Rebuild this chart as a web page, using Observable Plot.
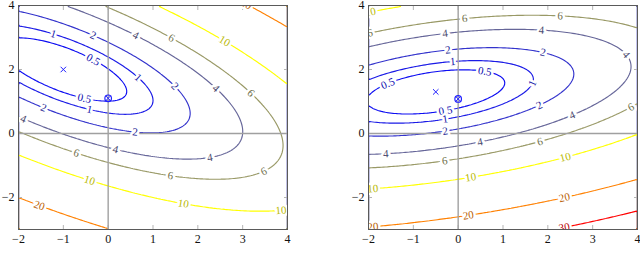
<!DOCTYPE html>
<html><head><meta charset="utf-8">
<script src="https://cdn.jsdelivr.net/npm/d3@7"></script>
<script src="https://cdn.jsdelivr.net/npm/@observablehq/plot@0.6"></script>
<style>
body{margin:0;background:#fff;}
#wrap{display:flex;width:640px;height:264px;overflow:hidden;}
#wrap svg{display:block;}
</style></head><body><div id="wrap"></div>
<script>
// contour levels and colormap (pgfplots "hot": blue, yellow, orange, red)
const levels = [0.5, 1, 2, 4, 6, 10, 20, 30];
const colorStopValues = [0, 10, 20, 30];
const colorStops = ["#0000ff", "#ffff00", "#ff8000", "#ff0000"];
const xTicks = [-2, -1, 0, 1, 2, 3, 4];
const yTicks = [-2, 0, 2, 4];
const xDomain = [-2, 4];
const yDomain = [-3, 4];

// left panel: quadratic bowl (center, coefficients a, b, c of a*u^2 + 2b*u*v + c*v^2)
const leftCenter = [-1, 2];
const leftQuad = [0.48, 0.475, 0.98];
const leftPoint = [0, 1.1];
const leftLabelLevels = [1, 2, 4, 6, 10, 20, 0.5, 1, 2, 4, 6, 0.5, 1, 2, 4, 2, 4, 6, 4, 6, 6, 10, 10, 10, 20];
const leftLabelX = [-1.22, -0.34, 0.59, 1.37, 2.54, 3.02, -0.35, 0.64, 1.45, 2.35, 3.13, -0.53, -0.42, -1.44, -1.89, 0.60, 0.16, -0.71, 2.28, 1.39, 3.49, -0.42, 1.68, 3.86, -1.52];
const leftLabelY = [3.11, 3.06, 3.03, 2.93, 2.82, 3.97, 2.28, 1.73, 1.45, 1.37, 1.22, 1.10, 0.74, 0.80, 0.46, 0.04, -0.5, -0.62, -0.79, -1.33, -1.21, -1.47, -2.18, -2.46, -2.22];

// right panel
const rightCenter = [-0.5, 1.3];
const rightQuad = [0.252, -0.227, 1.25];
const rightPoint = [0, 1.08];
const rightLabelLevels = [10, 6, 6, 6, 4, 4, 4, 2, 2, 1, 0.5, 0.5, 1, 0.5, 1, 2, 2, 4, 6, 4, 4, 6, 6, 10, 10, 10, 20, 20, 20, 30];
const rightLabelX = [-1.95, -1.96, 0.14, 2.28, -0.29, 1.86, 3.86, -0.23, 1.91, -0.12, 0.60, -1.59, 1.65, -0.29, -0.29, 1.79, -0.29, 2.54, 3.84, 0.49, -1.61, 1.82, -0.30, 2.38, 0.27, -1.90, 2.35, 0.22, -1.90, 2.35];
const rightLabelY = [3.76, 3.11, 3.61, 3.74, 3.11, 3.27, 2.54, 2.62, 2.59, 2.25, 1.97, 1.60, 1.57, 0.74, 0.46, 0.91, 0.09, 0.58, 0.84, -0.27, -0.67, -0.24, -0.84, -0.72, -1.34, -1.75, -1.94, -2.53, -2.93, -2.88];

const markBlue = "#2020ff";
const serif = "'Liberation Serif', 'DejaVu Serif', serif";

const colorOf = d3.scaleLinear().domain(colorStopValues).range(colorStops).interpolate(d3.interpolateRgb);
function labelColor(L) {
  const c = d3.rgb(colorOf(L));
  return d3.rgb(c.r * 0.72, c.g * 0.72, c.b * 0.72).formatHex();
}

function bowl(center, q) {
  const [cx, cy] = center, [a, b, c] = q;
  const f = (x, y) => { const u = x - cx, v = y - cy; return a*u*u + 2*b*u*v + c*v*v; };
  const g = (x, y) => { const u = x - cx, v = y - cy; return [2*(a*u + b*v), 2*(b*u + c*v)]; };
  return {f, g};
}

function panel({center, quad, point, labLevels, labX, labY, width, marginLeft, marginRight}) {
  const height = 264, marginTop = 5, marginBottom = 35;
  const sx = (width - marginLeft - marginRight) / (xDomain[1] - xDomain[0]);
  const sy = (height - marginTop - marginBottom) / (yDomain[1] - yDomain[0]);
  const {f, g} = bowl(center, quad);
  const labels = labLevels.map((L, i) => {
    let x = labX[i], y = labY[i];
    for (let k = 0; k < 30; k++) {
      const [gx, gy] = g(x, y);
      const d = (f(x, y) - L) / (gx*gx + gy*gy);
      x -= d*gx; y -= d*gy;
    }
    const [gx, gy] = g(x, y);
    let ang = Math.atan2(-gx*sy, -gy*sx) * 180 / Math.PI;
    if (ang > 90) ang -= 180;
    if (ang <= -90) ang += 180;
    return {x, y, text: String(L), rotate: ang, color: labelColor(L)};
  });
  return Plot.plot({
    width, height, marginTop, marginBottom, marginLeft, marginRight,
    x: {domain: xDomain},
    y: {domain: yDomain},
    color: {type: "linear", domain: colorStopValues, range: colorStops, interpolate: "rgb"},
    style: {fontFamily: serif, background: "white", overflow: "visible"},
    marks: [
      Plot.contour({x1: xDomain[0], y1: yDomain[0], x2: xDomain[1], y2: yDomain[1],
        stroke: f, fill: "none", thresholds: levels, strokeWidth: 1.15, clip: true}),
      Plot.axisX(xTicks, {anchor: "bottom", tickSize: -4, tickFormat: () => "", stroke: "#b5b5b5", label: null}),
      Plot.axisX(xTicks, {anchor: "top", tickSize: -4, tickFormat: () => "", stroke: "#b5b5b5", label: null}),
      Plot.axisY(yTicks, {anchor: "left", tickSize: -4, tickFormat: () => "", stroke: "#b5b5b5", label: null}),
      Plot.axisY(yTicks, {anchor: "right", tickSize: -4, tickFormat: () => "", stroke: "#b5b5b5", label: null}),
      Plot.ruleX([0], {stroke: "#a0a0a0", strokeWidth: 1.4}),
      Plot.ruleY([0], {stroke: "#a0a0a0", strokeWidth: 1.4}),
      Plot.text(labels, {x: "x", y: "y", text: "text", rotate: "rotate", fill: d => d.color,
        stroke: "white", strokeWidth: 5, fontSize: 11, fontFamily: serif, clip: true}),
      Plot.dot([center], {x: d => d[0], y: d => d[1], symbol: "times", r: 2.6, stroke: markBlue, strokeWidth: 1}),
      Plot.dot([point], {x: d => d[0], y: d => d[1], symbol: "circle", r: 3.3, stroke: markBlue, strokeWidth: 1.2, fill: "none"}),
      Plot.dot([point], {x: d => d[0], y: d => d[1], symbol: "times", r: 2.4, stroke: markBlue, strokeWidth: 1}),
      Plot.frame({stroke: "#5a5a5a", strokeWidth: 1}),
      Plot.axisX(xTicks, {anchor: "bottom", tickSize: 0, tickPadding: 5, fontSize: 12, fill: "#111", label: null}),
      Plot.axisY(yTicks, {anchor: "left", tickSize: 0, tickPadding: 4, fontSize: 12, fill: "#111", label: null})
    ]
  });
}

const wrap = document.getElementById("wrap");
wrap.appendChild(panel({center: leftCenter, quad: leftQuad, point: leftPoint,
  labLevels: leftLabelLevels, labX: leftLabelX, labY: leftLabelY, width: 320, marginLeft: 18, marginRight: 33}));
wrap.appendChild(panel({center: rightCenter, quad: rightQuad, point: rightPoint,
  labLevels: rightLabelLevels, labX: rightLabelX, labY: rightLabelY, width: 320, marginLeft: 48, marginRight: 3}));
</script></body></html>
